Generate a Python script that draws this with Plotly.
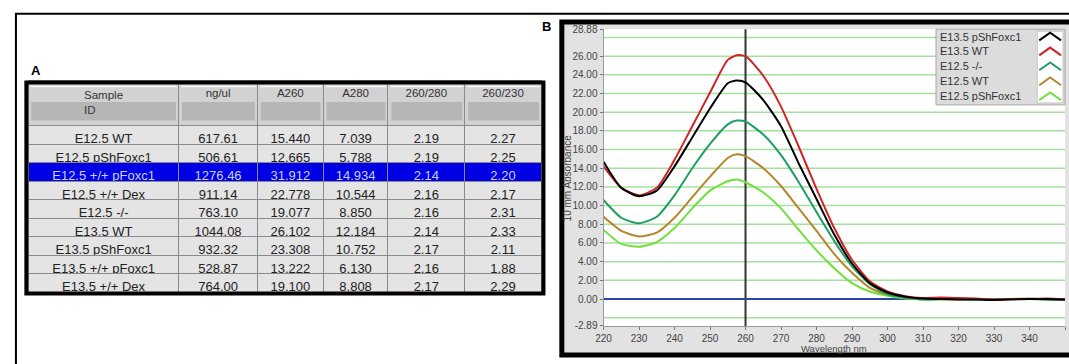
import plotly.graph_objects as go

# ---------------- Panel A data (table) ----------------
sample_ids = ["E12.5 WT", "E12.5 pShFoxc1", "E12.5 +/+ pFoxc1", "E12.5 +/+ Dex", "E12.5 -/-",
              "E13.5 WT", "E13.5 pShFoxc1", "E13.5 +/+ pFoxc1", "E13.5 +/+ Dex"]
ng_ul = [617.61, 506.61, 1276.46, 911.14, 763.10, 1044.08, 932.32, 528.87, 764.00]
a260 = [15.440, 12.665, 31.912, 22.778, 19.077, 26.102, 23.308, 13.222, 19.100]
a280 = [7.039, 5.788, 14.934, 10.544, 8.850, 12.184, 10.752, 6.130, 8.808]
r260_280 = [2.19, 2.19, 2.14, 2.16, 2.16, 2.14, 2.17, 2.16, 2.17]
r260_230 = [2.27, 2.25, 2.20, 2.17, 2.31, 2.33, 2.11, 1.88, 2.29]
table_headers = ["Sample<br>ID", "ng/ul", "A260", "A280", "260/280", "260/230"]
highlighted_row = 2

# ---------------- Panel B data (spectra) ----------------
wavelength = [220, 225, 230, 235, 240, 245, 250, 255, 257.5, 260, 265, 270, 275, 280, 285,
              290, 295, 300, 305, 310, 315, 320, 325, 330, 335, 340, 345, 350]
e135_pshfoxc1 = [14.7, 11.9, 11.0, 11.6, 14.2, 17.3, 20.4, 23.1, 23.4, 23.2, 21.3, 18.5, 14.5, 10.7,
                 6.9, 3.8, 1.7, 0.7, 0.25, 0.05, 0.0, -0.05, -0.05, -0.1, -0.05, 0.0, 0.0, -0.05]
e135_wt = [14.2, 11.9, 11.1, 11.9, 14.9, 18.5, 22.1, 25.6, 26.1, 26.0, 23.9, 20.6, 16.3, 11.8,
           7.6, 4.2, 1.9, 0.8, 0.3, 0.1, 0.15, 0.1, 0.05, -0.05, 0.0, 0.0, 0.05, -0.05]
e125_ko = [10.6, 8.7, 8.1, 8.8, 11.1, 14.0, 16.6, 18.7, 19.1, 19.0, 17.6, 15.4, 12.5, 9.3,
           6.2, 3.5, 1.6, 0.5, 0.15, -0.05, 0.0, 0.0, -0.05, -0.05, 0.0, 0.0, -0.05, -0.1]
e125_wt = [8.8, 7.3, 6.7, 7.1, 8.7, 10.9, 13.1, 15.1, 15.5, 15.3, 14.0, 12.1, 9.7, 7.3,
           4.8, 2.8, 1.2, 0.5, 0.15, 0.0, 0.0, -0.05, 0.0, -0.05, 0.0, 0.05, -0.05, -0.05]
e125_pshfoxc1 = [7.4, 5.9, 5.6, 6.1, 7.6, 9.7, 11.6, 12.6, 12.8, 12.5, 11.4, 9.7, 7.4, 5.2,
                 3.3, 1.7, 0.8, 0.35, 0.05, -0.05, -0.05, 0.0, -0.05, -0.05, 0.0, 0.0, -0.05, -0.05]

series_names = ["E13.5 pShFoxc1", "E13.5 WT", "E12.5 -/-", "E12.5 WT", "E12.5 pShFoxc1"]
series_values = [e135_pshfoxc1, e135_wt, e125_ko, e125_wt, e125_pshfoxc1]
series_colors = ["#000000", "#d02424", "#1f9e60", "#b5862c", "#6fe03c"]

y_tick_values = [-2.89, 0, 2, 4, 6, 8, 10, 12, 14, 16, 18, 20, 22, 24, 26, 28.88]
grid_values = [-2, 2, 4, 6, 8, 10, 12, 14, 16, 18, 20, 22, 24, 26, 28]
x_tick_values = list(range(220, 351, 10))
marker_wavelength = 260
y_range = [-2.89, 28.88]
x_range = [220, 350]

# ---------------- layout helpers ----------------
W, H = 1069, 364


def px(x):
    return x / W


def py(y):
    return 1 - y / H


FONT = "Liberation Sans, Arial, sans-serif"

fig = go.Figure()

# spectra (drawn bottom-up so the black one is on top)
for name, vals, col in reversed(list(zip(series_names, series_values, series_colors))):
    fig.add_trace(go.Scatter(x=wavelength, y=vals, mode="lines", name=name,
                             line=dict(color=col, width=2, shape="spline", smoothing=0.6),
                             showlegend=False, hoverinfo="x+y+name"))

# table
tbl_left, tbl_right, tbl_top, tbl_bottom = 20.5, 538, 78, 297
col_widths = [151, 79, 66, 65, 77, 77]
header_h, row_h = 45, 18.5
n_rows = len(sample_ids)
fill_col = ["#0000e4" if i == highlighted_row else "#e4e4e4" for i in range(n_rows)]
font_col = ["#c8d0ff" if i == highlighted_row else "#222222" for i in range(n_rows)]
fig.add_trace(go.Table(
    domain=dict(x=[px(tbl_left), px(tbl_right)], y=[py(tbl_bottom), py(tbl_top)]),
    columnwidth=col_widths,
    header=dict(values=table_headers, fill_color="#d2d2d2", line_color="#8a8a8a",
                font=dict(family=FONT, size=11.5, color="#333333"), height=header_h, align="center"),
    cells=dict(values=[sample_ids, ng_ul, a260, a280, r260_280, r260_230],
               format=[None, ".2f", ".3f", ".3f", ".2f", ".2f"],
               fill_color=[fill_col] * 6, line_color="#8a8a8a",
               font=dict(family=FONT, size=13, color=[font_col] * 6),
               height=row_h, align="center"),
))

shapes = []
# cell background behind the table (fills the slack under the last row)
shapes.append(dict(type="rect", xref="paper", yref="paper", x0=px(tbl_left), x1=px(tbl_right),
                   y0=py(tbl_bottom), y1=py(tbl_bottom - 20), line=dict(width=0), fillcolor="#e4e4e4",
                   layer="below"))
# header button bevel (darker lower band in each header cell)
scale = (tbl_right - tbl_left) / sum(col_widths)
xc = tbl_left
for w in col_widths:
    x0, x1 = xc, xc + w * scale
    shapes.append(dict(type="rect", xref="paper", yref="paper", x0=px(x0 + 3), x1=px(x1 - 3),
                       y0=py(119), y1=py(100),
                       line=dict(width=0), fillcolor="rgba(80,80,80,0.22)", layer="above"))
    shapes.append(dict(type="line", xref="paper", yref="paper", x0=px(x0 + 2), x1=px(x1 - 2),
                       y0=py(84), y1=py(84),
                       line=dict(color="rgba(255,255,255,0.8)", width=1.5), layer="above"))
    xc = x1

# outer frame of the whole figure
shapes.append(dict(type="rect", xref="paper", yref="paper", x0=px(8), x1=px(1090), y0=py(9), y1=py(390),
                   line=dict(color="black", width=2), fillcolor="rgba(0,0,0,0)", layer="above"))
# panel B frame
shapes.append(dict(type="rect", xref="paper", yref="paper", x0=px(558), x1=px(1090), y0=py(17.5), y1=py(361),
                   line=dict(color="black", width=5), fillcolor="#e2e2e2", layer="below"))
# plot area white
shapes.append(dict(type="rect", xref="x domain", yref="y domain", x0=0, x1=1, y0=0, y1=1,
                   line=dict(width=0), fillcolor="white", layer="below"))
# green grid lines
for g in grid_values:
    shapes.append(dict(type="line", xref="x domain", yref="y", x0=0, x1=1, y0=g, y1=g,
                       line=dict(color="#a6e0a0", width=1.5), layer="below"))
# vertical marker line
shapes.append(dict(type="line", xref="x", yref="y domain", x0=marker_wavelength, x1=marker_wavelength,
                   y0=0, y1=1, line=dict(color="#333333", width=2), layer="below"))
# table border
shapes.append(dict(type="rect", xref="paper", yref="paper", x0=px(18.5), x1=px(539.5), y0=py(80), y1=py(297.5),
                   line=dict(color="black", width=4), fillcolor="rgba(0,0,0,0)", layer="above"))

# custom legend (text left, symbol right)
leg_top, leg_bottom = 25, 103
shapes.append(dict(type="rect", xref="paper", yref="paper", x0=px(935), x1=px(1065), y0=py(leg_top), y1=py(leg_bottom),
                   line=dict(color="#a8a8a8", width=1), fillcolor="#dcdcdc", layer="above"))
shapes.append(dict(type="rect", xref="paper", yref="paper", x0=px(1037), x1=px(1063), y0=py(27), y1=py(101),
                   line=dict(color="#c4c4c4", width=1), fillcolor="white", layer="above"))
annotations = []
for i, (name, col) in enumerate(zip(series_names, series_colors)):
    yc = 32.5 + i * 15.4
    path = (f"M {px(1039)} {py(yc + 4)} L {px(1050)} {py(yc - 4)} L {px(1061)} {py(yc + 4)}")
    shapes.append(dict(type="path", xref="paper", yref="paper", path=path,
                       line=dict(color=col, width=2), layer="above"))
    annotations.append(dict(x=px(937), y=py(yc), xref="paper", yref="paper", text=name, showarrow=False,
                            xanchor="left", yanchor="middle", font=dict(family=FONT, size=11, color="#333333")))

# panel labels & axis titles
annotations.append(dict(x=px(21), y=py(68), xref="paper", yref="paper", text="<b>A</b>", showarrow=False,
                        xanchor="left", yanchor="middle", font=dict(family=FONT, size=13, color="black")))
annotations.append(dict(x=px(536), y=py(22), xref="paper", yref="paper", text="<b>B</b>", showarrow=False,
                        xanchor="left", yanchor="middle", font=dict(family=FONT, size=13, color="black")))
annotations.append(dict(x=px(564), y=py(178), xref="paper", yref="paper", text="10 mm Absorbance",
                        showarrow=False, textangle=-90, xanchor="center", yanchor="middle",
                        font=dict(family=FONT, size=10, color="#444444")))
annotations.append(dict(x=px(832), y=py(354), xref="paper", yref="paper", text="Wavelength nm",
                        showarrow=False, xanchor="center", yanchor="middle",
                        font=dict(family=FONT, size=9.5, color="#444444")))

fig.update_layout(
    width=W, height=H, margin=dict(l=0, r=0, t=0, b=0),
    paper_bgcolor="white", plot_bgcolor="white",
    font=dict(family=FONT),
    shapes=shapes, annotations=annotations, showlegend=False,
    xaxis=dict(domain=[px(600), px(1065)], range=x_range, tickvals=x_tick_values,
               ticks="outside", ticklen=3, tickcolor="#777777", showline=True, linecolor="#9a9a9a",
               showgrid=False, zeroline=False, tickfont=dict(family=FONT, size=10, color="#444444")),
    yaxis=dict(domain=[py(331), py(25)], range=y_range, tickvals=y_tick_values,
               ticktext=[f"{v:.2f}" for v in y_tick_values],
               ticks="outside", ticklen=3, tickcolor="#777777", showline=True, linecolor="#9a9a9a",
               showgrid=False, zeroline=True, zerolinecolor="#2a46a8", zerolinewidth=1.5,
               tickfont=dict(family=FONT, size=10, color="#444444")),
)

fig.write_html("out.html", config={"displayModeBar": False},
               post_script="document.body.style.margin='0';document.body.style.overflow='hidden';")
